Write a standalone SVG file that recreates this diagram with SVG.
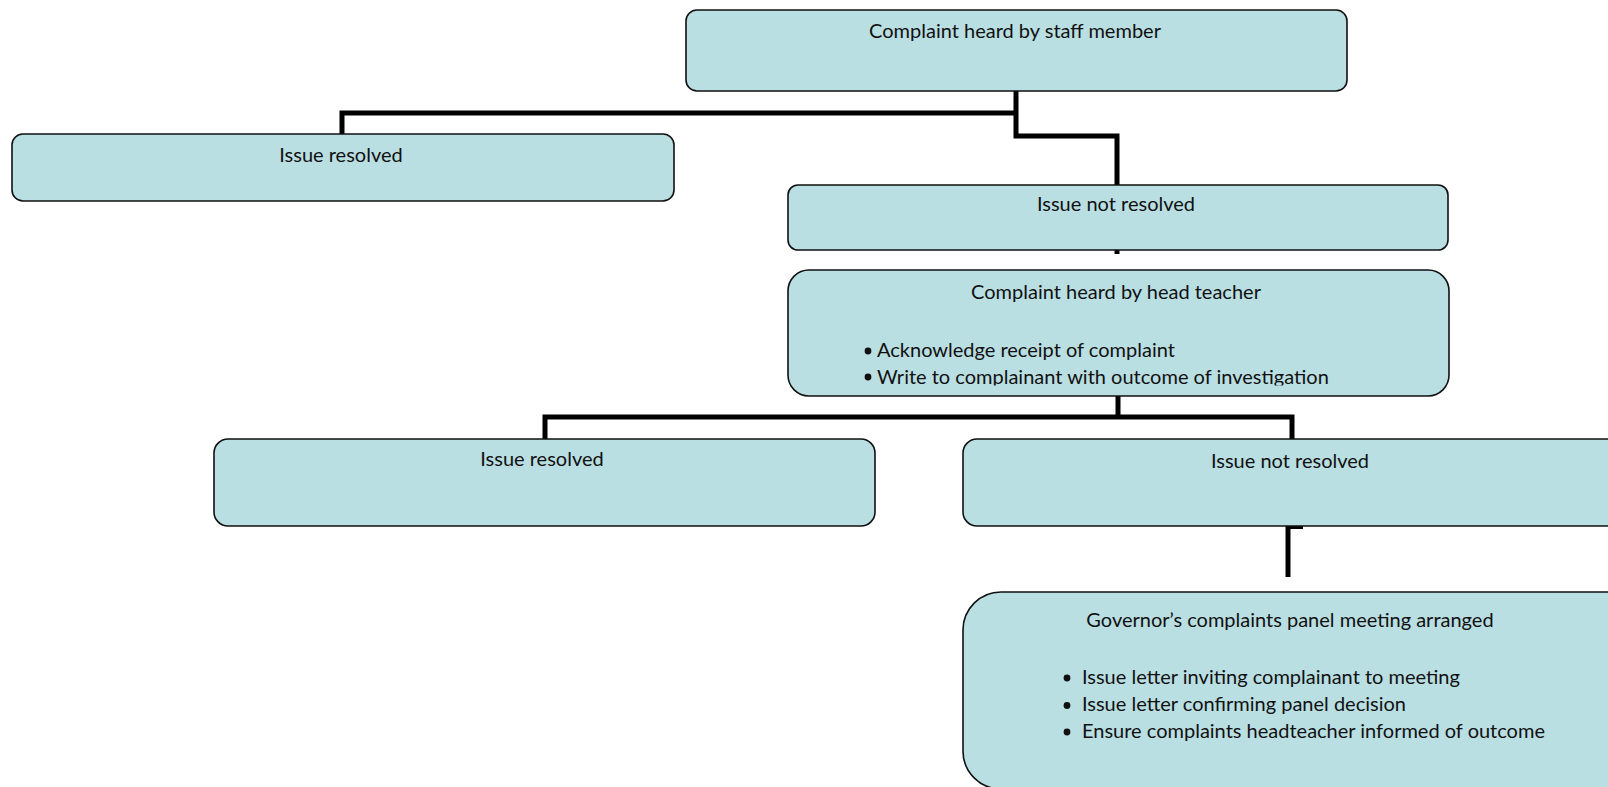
<svg xmlns="http://www.w3.org/2000/svg" width="1608" height="787" viewBox="0 0 1608 787">
<style>
.box{fill:#b9dfe3;stroke:#111;stroke-width:1.6}
.t{font-family:Lato,"Liberation Sans",sans-serif;font-size:20px;fill:#111}
.c{text-anchor:middle}
.con{fill:none;stroke:#000;stroke-width:5;stroke-linejoin:miter;stroke-linecap:butt}
</style>
<defs>
<clipPath id="clipHT"><rect x="789" y="271" width="659" height="114.5"/></clipPath>
</defs>
<rect width="1608" height="787" fill="#fff"/>
<g id="connectors">
<polyline class="con" points="342,134 342,113 1016,113"/>
<polyline class="con" points="1016,91 1016,136 1117,136 1117,185"/>
<line class="con" x1="1117" y1="250" x2="1117" y2="254"/>
<polyline class="con" points="1118,396 1118,417"/>
<polyline class="con" points="545,439 545,417 1292,417 1292,439"/>
<line class="con" x1="1288" y1="526" x2="1288" y2="577"/>
<line x1="1288" y1="527.5" x2="1303" y2="527.5" stroke="#000" stroke-width="3"/>
</g>
<g id="n1">
<rect class="box" x="686" y="10" width="661" height="81" rx="11"/>
<text class="t c" x="1015" y="38">Complaint heard by staff member</text>
</g>
<g id="n2">
<rect class="box" x="12" y="134" width="662" height="67" rx="11"/>
<text class="t c" x="341" y="162">Issue resolved</text>
</g>
<g id="n3">
<rect class="box" x="788" y="185" width="660" height="65" rx="10"/>
<text class="t c" x="1116" y="211">Issue not resolved</text>
</g>
<g id="n4">
<rect class="box" x="788" y="270" width="661" height="126" rx="21"/>
<text class="t c" x="1116" y="299">Complaint heard by head teacher</text>
<g clip-path="url(#clipHT)">
<circle cx="868" cy="351" r="3.4" fill="#111"/>
<text class="t" x="877" y="357">Acknowledge receipt of complaint</text>
<circle cx="868" cy="377" r="3.4" fill="#111"/>
<text class="t" x="877" y="383.5">Write to complainant with outcome of investigation</text>
</g>
</g>
<g id="n5">
<rect class="box" x="214" y="439" width="661" height="87" rx="14"/>
<text class="t c" x="542" y="466">Issue resolved</text>
</g>
<g id="n6">
<rect class="box" x="963" y="439" width="670" height="87" rx="14"/>
<text class="t c" x="1290" y="468">Issue not resolved</text>
</g>
<g id="n7">
<rect class="box" x="963" y="592" width="700" height="197" rx="38"/>
<text class="t c" x="1290" y="627">Governor’s complaints panel meeting arranged</text>
<circle cx="1067" cy="678" r="3.4" fill="#111"/>
<text class="t" x="1082" y="684">Issue letter inviting complainant to meeting</text>
<circle cx="1067" cy="705.5" r="3.4" fill="#111"/>
<text class="t" x="1082" y="711">Issue letter confirming panel decision</text>
<circle cx="1067" cy="732" r="3.4" fill="#111"/>
<text class="t" x="1082" y="738">Ensure complaints headteacher informed of outcome</text>
</g>
</svg>
